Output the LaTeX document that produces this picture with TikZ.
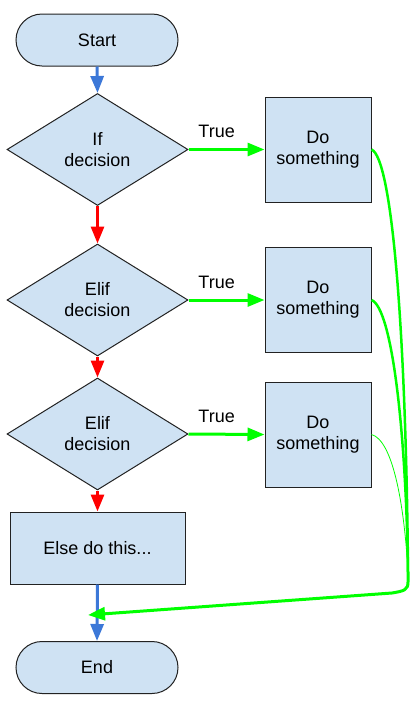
\documentclass[tikz,border=0pt]{standalone}
\usepackage{fontspec}
\setmainfont{Liberation Sans}
\usetikzlibrary{shapes.geometric,arrows.meta}
\definecolor{boxfill}{HTML}{CFE2F3}
\definecolor{bordercol}{HTML}{222222}
\definecolor{flowblue}{HTML}{3C78D8}
\definecolor{flowred}{HTML}{FF0000}
\definecolor{flowgreen}{HTML}{00FF00}
\tikzset{
  base/.style={draw=bordercol, fill=boxfill, line width=1pt, font=\fontsize{18}{21}\selectfont, align=center, inner sep=0pt},
  term/.style={base, rectangle, rounded corners=26pt, minimum width=162pt, minimum height=52pt},
  dec/.style={base, diamond, minimum width=181pt, minimum height=112pt},
  proc/.style={base, rectangle, minimum width=106pt, minimum height=105pt},
  elsebox/.style={base, rectangle, minimum width=175pt, minimum height=72pt},
  blueflow/.style={draw=flowblue, line width=3pt, -{Triangle[length=17pt,width=13pt]}},
  redflow/.style={draw=flowred, line width=3pt, -{Triangle[length=17pt,width=13pt]}},
  greenflow/.style={draw=flowgreen, line width=3pt, -{Triangle[length=17pt,width=13pt]}},
  greenline/.style={draw=flowgreen, line width=2.5pt},
  lbl/.style={font=\fontsize{18}{21}\selectfont, inner sep=0pt}
}
\begin{document}
\begin{tikzpicture}[x=1pt,y=-1pt]
\useasboundingbox (0,0) rectangle (419,702);
\node[term] (start) at (97,40) {Start};
\node[dec] (d1) at (97.5,149.5) {If\\decision};
\node[dec] (d2) at (97.5,300) {Elif\\decision};
\node[dec] (d3) at (97.5,434) {Elif\\decision};
\node[elsebox] (else) at (97.5,548) {Else do this...};
\node[term] (end) at (97,667.5) {End};
\node[proc] (b1) at (318,149.5) {Do\\something};
\node[proc] (b2) at (318,300) {Do\\something};
\node[proc] (b3) at (318,434.5) {Do\\something};

\draw[blueflow] (start.south) -- (d1.north);
\draw[redflow] (d1.south) -- (d2.north);
\draw[redflow] (d2.south) -- (d3.north);
\draw[redflow] (d3.south) -- (else.north);
\draw[blueflow] (else.south) -- (end.north);

\draw[greenflow] (d1.east) -- node[lbl, pos=0.37, above=10pt] (t1) {True} (b1.west);
\draw[greenflow] (d2.east) -- node[lbl, pos=0.37, above=10pt] (t2) {True} (b2.west);
\draw[greenflow] (d3.east) -- node[lbl, pos=0.37, above=10pt] (t3) {True} (b3.west);

\coordinate (join) at (408,572);
\coordinate (corner) at (408,590);
\coordinate (tip) at (88,615);
\draw[greenline] (b1.east) .. controls (392,158) and (406,330) .. (join);
\draw[greenline] (b2.east) .. controls (392,308) and (406,430) .. (join);
\draw[draw=flowgreen, line width=0.8pt] (b3.east) .. controls (392,440) and (404,500) .. (join);
\draw[greenflow] (join) -- (408,582) .. controls (408,590) and (404,591) .. (392,593) -- (tip);
\end{tikzpicture}
\end{document}
